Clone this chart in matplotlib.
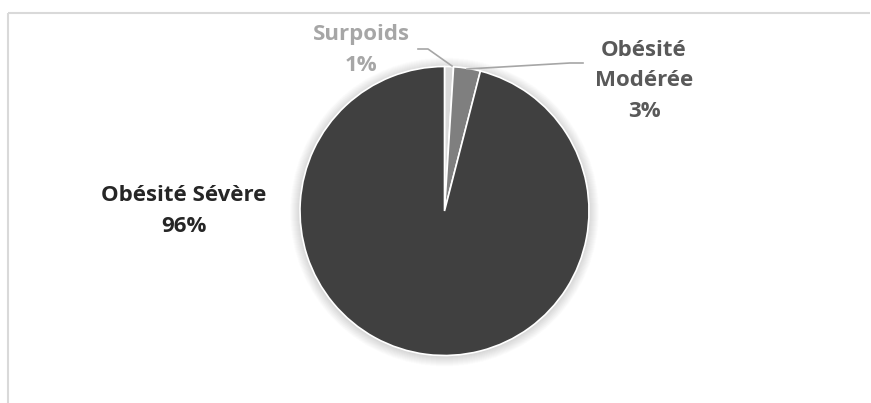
import matplotlib
matplotlib.use("Agg")
import matplotlib.pyplot as plt
from matplotlib.patches import Circle

# Data
categories = ["Surpoids", "Obésité Modérée", "Obésité Sévère"]
values = [1, 3, 96]
slice_colors = ["#d9d9d9", "#7f7f7f", "#404040"]
label_colors = ["#a6a6a6", "#595959", "#262626"]

plt.rcParams["font.family"] = ["Open Sans", "DejaVu Sans"]

W, H = 871, 403
fig = plt.figure(figsize=(W / 100, H / 100), dpi=100)
ax = fig.add_axes([0, 0, 1, 1])
ax.set_xlim(0, W)
ax.set_ylim(0, H)
ax.set_aspect("equal")
ax.axis("off")

# Chart area frame (top and left edges visible)
ax.plot([7.5, 7.5], [0, H - 12.5], color="#d9d9d9", lw=1.5, solid_capstyle="butt")
ax.plot([7.5, W - 1], [H - 12.5, H - 12.5], color="#d9d9d9", lw=1.5, solid_capstyle="butt")

cx, cy, r = 444.5, H - 211, 144.5

# Soft shadow around the pie
n = 20
for i in range(n):
    ax.add_patch(Circle((cx, cy - 1), r + 10 * (1 - i / n), color="black",
                        alpha=0.009, lw=0, zorder=1))

wedges, _ = ax.pie(values, colors=slice_colors, startangle=90, counterclock=False,
                   center=(cx, cy), radius=r, frame=True,
                   wedgeprops=dict(edgecolor="white", linewidth=1.2))
for w in wedges:
    w.set_zorder(2)
ax.set_xlim(0, W)
ax.set_ylim(0, H)
ax.axis("off")

fs = 16
ls = 1.58
# Labels
ax.text(184, H - 211, f"{categories[2]}\n{values[2]}%", ha="center", va="center",
        fontsize=fs, fontweight="bold", color=label_colors[2], linespacing=ls)
ax.text(361, H - 50, f"{categories[0]}\n{values[0]}%", ha="center", va="center",
        fontsize=fs, fontweight="bold", color=label_colors[0], linespacing=ls)
ax.text(644, H - 81, "Obésité\nModérée\n" + f"{values[1]}%", ha="center", va="center",
        fontsize=fs, fontweight="bold", color=label_colors[1], linespacing=ls)

# Leader lines
ax.plot([418, 428, 452], [H - 49, H - 49, H - 66], color="#a6a6a6", lw=1.2, zorder=3)
ax.plot([583, 570, 467], [H - 63, H - 63, H - 69], color="#a6a6a6", lw=1.2, zorder=3)

fig.savefig("out.png", dpi=100, facecolor="white")
